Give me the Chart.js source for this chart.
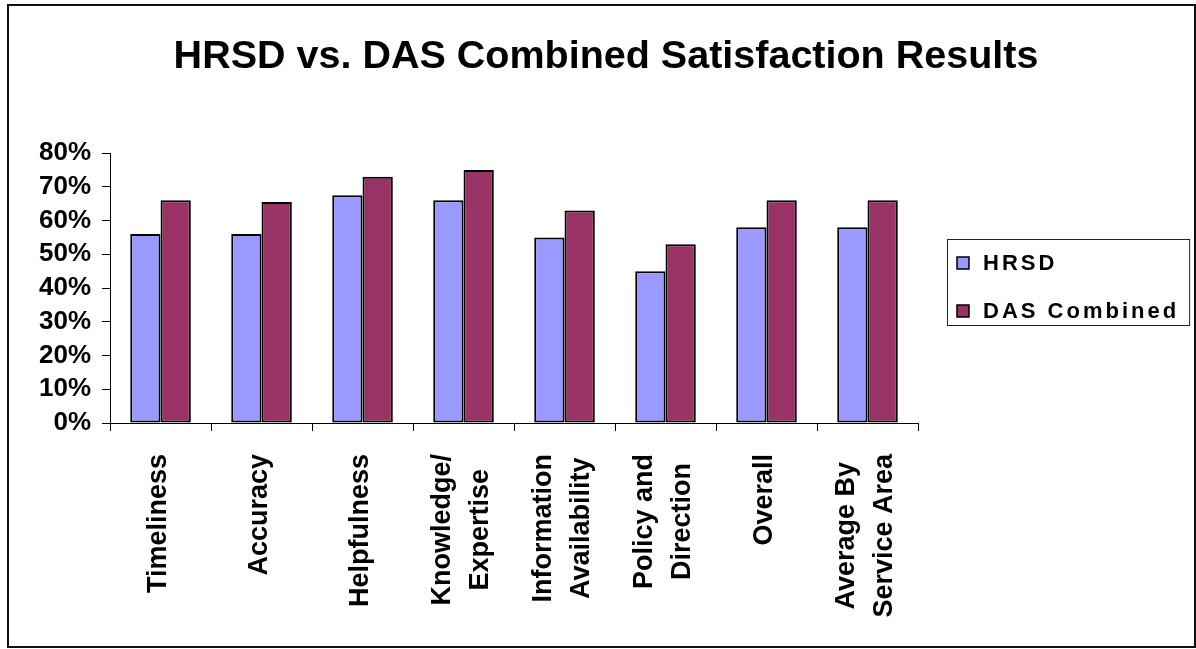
<!DOCTYPE html>
<html>
<head>
<meta charset="utf-8">
<title>HRSD vs. DAS Combined Satisfaction Results</title>
<script src="https://cdn.jsdelivr.net/npm/chart.js@4/dist/chart.umd.min.js"></script>
<style>
	html, body { margin: 0; padding: 0; background: #fff; }
	#mainDiv { width: 1196px; height: 649px; }
</style>
</head>
<body>
<div id="mainDiv"><canvas id="resultChart" width="1196" height="649"></canvas></div>
<script>
// survey categories (one entry per line of the axis label)
const categories = [
	['Timeliness'],
	['Accuracy'],
	['Helpfulness'],
	['Knowledge/', 'Expertise'],
	['Information', 'Availability'],
	['Policy and', 'Direction'],
	['Overall'],
	['Average By', 'Service Area']
];
const seriesNames = ['HRSD', 'DAS Combined'];
const hrsdValues = [56, 56, 67.5, 66, 55, 45, 58, 58];
const dasValues = [66, 65.5, 73, 75, 63, 53, 66, 66];
const yTicks = [0, 10, 20, 30, 40, 50, 60, 70, 80];
const chartTitle = 'HRSD vs. DAS Combined Satisfaction Results';

const FONT = '"Liberation Sans", Arial, sans-serif';
const colors = ['#9999FF', '#993366'];

Chart.defaults.font.family = FONT;
Chart.defaults.color = '#000';

// white background, outer frame and title
const framePlugin = {
	id: 'frame',
	beforeDraw(chart) {
		const ctx = chart.ctx;
		ctx.save();
		ctx.fillStyle = '#fff';
		ctx.fillRect(0, 0, chart.width, chart.height);
		ctx.restore();
	},
	afterDraw(chart) {
		const ctx = chart.ctx;
		ctx.save();
		ctx.strokeStyle = '#111';
		ctx.lineWidth = 2;
		ctx.strokeRect(8, 5, chart.width - 1 - 8, chart.height - 2 - 5);
		ctx.font = 'bold 39.5px ' + FONT;
		ctx.fillStyle = '#000';
		ctx.textAlign = 'center';
		ctx.textBaseline = 'alphabetic';
		ctx.fillText(chartTitle, chart.width / 2 + 8, 68);
		ctx.restore();
	}
};

// rotated category labels, lines centred on each category
const categoryLabels = {
	id: 'categoryLabels',
	afterDraw(chart) {
		const ctx = chart.ctx;
		const xScale = chart.scales.x;
		const top = chart.chartArea.bottom + 31;
		const step = 38;
		ctx.save();
		ctx.font = 'bold 27px ' + FONT;
		ctx.fillStyle = '#000';
		ctx.textAlign = 'center';
		ctx.textBaseline = 'middle';
		categories.forEach((lines, i) => {
			const px = xScale.getPixelForValue(i);
			const blockW = Math.max(...lines.map(l => ctx.measureText(l).width));
			lines.forEach((line, j) => {
				const off = (j - (lines.length - 1) / 2) * step;
				ctx.save();
				ctx.translate(px + off - 2, top);
				ctx.rotate(-Math.PI / 2);
				ctx.fillText(line, -blockW / 2, 0);
				ctx.restore();
			});
		});
		ctx.restore();
	}
};

// boxed legend to the right of the plot
const sideLegend = {
	id: 'sideLegend',
	afterDraw(chart) {
		const ctx = chart.ctx;
		const area = chart.chartArea;
		const lx = area.right + 29;
		const ly = area.top + 86;
		ctx.save();
		ctx.font = 'bold 22px ' + FONT;
		ctx.letterSpacing = '3px';
		const textW = Math.max(...chart.data.datasets.map(d => ctx.measureText(d.label).width));
		const lw = 36 + textW + 10;
		ctx.strokeStyle = '#222';
		ctx.lineWidth = 1;
		ctx.strokeRect(lx + 0.5, ly + 0.5, lw, 86);
		ctx.textBaseline = 'middle';
		ctx.textAlign = 'left';
		chart.data.datasets.forEach((d, i) => {
			const y = ly + 24 + i * 48;
			ctx.fillStyle = d.backgroundColor;
			ctx.fillRect(lx + 10, y - 6, 12, 12);
			ctx.strokeStyle = '#000';
			ctx.lineWidth = 1.5;
			ctx.strokeRect(lx + 10, y - 6, 12, 12);
			ctx.fillStyle = '#000';
			ctx.fillText(d.label, lx + 36, y + 1);
		});
		ctx.restore();
	}
};

new Chart(document.getElementById('resultChart').getContext('2d'), {
	type: 'bar',
	data: {
		labels: categories,
		datasets: [
			{
				label: seriesNames[0],
				data: hrsdValues,
				backgroundColor: colors[0],
				borderColor: '#000',
				borderWidth: 2,
				borderSkipped: false
			},
			{
				label: seriesNames[1],
				data: dasValues,
				backgroundColor: colors[1],
				borderColor: '#000',
				borderWidth: 2,
				borderSkipped: false
			}
		]
	},
	options: {
		responsive: false,
		animation: false,
		devicePixelRatio: 1,
		layout: { padding: { left: 28, right: 278, top: 153, bottom: 218 } },
		datasets: { bar: { barPercentage: 1, categoryPercentage: 0.6 } },
		scales: {
			x: {
				grid: { offset: true, drawOnChartArea: false, tickLength: 8, color: '#000' },
				border: { color: '#000', width: 1 },
				ticks: { display: false }
			},
			y: {
				min: 0,
				max: 80,
				afterBuildTicks: axis => { axis.ticks = yTicks.map(v => ({ value: v })); },
				ticks: {
					autoSkip: false,
					padding: 11,
					font: { size: 26, weight: 'bold' },
					color: '#000',
					callback: value => value + '%'
				},
				grid: { drawOnChartArea: false, tickLength: 8, color: '#000' },
				border: { color: '#000', width: 1 }
			}
		},
		plugins: {
			legend: { display: false },
			title: { display: false },
			tooltip: { enabled: false }
		}
	},
	plugins: [framePlugin, categoryLabels, sideLegend]
});
</script>
</body>
</html>
